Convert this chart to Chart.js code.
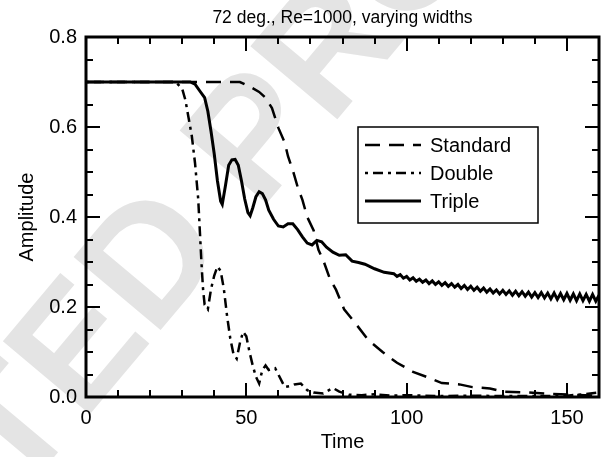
<!DOCTYPE html>
<html>
<head>
<meta charset="utf-8">
<script src="https://cdn.jsdelivr.net/npm/chart.js@4.4.1/dist/chart.umd.min.js"></script>
<style>
  html, body { margin: 0; padding: 0; background: #fff; }
</style>
</head>
<body>
<canvas id="chart" width="609" height="457"></canvas>
<script>
// values
const stdT = [0, 48, 51, 54, 56, 58, 60, 62, 63, 64.5, 66, 67.5, 69, 71, 72.5, 74, 76, 78, 80.5, 84, 88, 92.5, 97, 102, 106.5, 111, 116.5, 120.5, 126, 130, 138, 145, 152, 160];
const stdA = [0.70, 0.70, 0.69, 0.678, 0.665, 0.642, 0.598, 0.565, 0.535, 0.504, 0.467, 0.438, 0.40, 0.37, 0.327, 0.304, 0.264, 0.238, 0.195, 0.164, 0.127, 0.10, 0.076, 0.056, 0.044, 0.031, 0.028, 0.022, 0.019, 0.012, 0.01, 0.007, 0.005, 0.003];

const dblT = [0, 28, 30, 31, 32, 33, 34, 35, 35.5, 36, 36.5, 37, 38, 39, 40, 41, 42, 43, 44, 45, 46, 47, 48, 49, 50, 51, 52, 53, 54, 55, 56, 57, 58, 59, 60, 62, 64, 65, 67, 69, 71, 74, 77, 79, 82, 86, 90, 95, 100, 110, 120, 130, 140, 150, 155, 160];
const dblA = [0.70, 0.70, 0.685, 0.66, 0.62, 0.58, 0.52, 0.44, 0.37, 0.30, 0.24, 0.205, 0.195, 0.24, 0.27, 0.29, 0.28, 0.24, 0.18, 0.13, 0.095, 0.085, 0.12, 0.145, 0.135, 0.10, 0.07, 0.045, 0.03, 0.06, 0.07, 0.06, 0.062, 0.064, 0.05, 0.022, 0.025, 0.028, 0.03, 0.015, 0.01, 0.008, 0.02, 0.012, 0.005, 0.004, 0.006, 0.003, 0.004, 0.002, 0.003, 0.002, 0.002, 0.003, 0.006, 0.01];

const triT = [0, 32.5, 34, 35.5, 37, 38, 39, 40, 41, 42, 42.5, 43.5, 44.5, 45.5, 46.5, 47.5, 48.5, 49.5, 50.5, 51.2, 52, 53, 54, 55, 56, 57, 58.5, 60, 61.5, 63, 64.5, 66, 67.5, 69, 70.5, 72, 73.5, 75, 77, 79, 81, 83, 85, 87, 90, 93,
  96, 97, 98, 99, 100, 101, 102, 103, 104, 105, 106, 107, 108, 109, 110, 111, 112, 113, 114, 115, 116, 117, 118, 119, 120, 121, 122, 123, 124, 125, 126, 127, 128, 129,
  130, 131, 132, 133, 134, 135, 136, 137, 138, 139, 140, 141, 142, 143, 144, 145, 146, 147, 148, 149, 150, 151, 152, 153, 154, 155, 156, 157, 158, 159, 160];
const triA = [0.70, 0.70, 0.695, 0.68, 0.665, 0.635, 0.59, 0.54, 0.48, 0.435, 0.428, 0.47, 0.515, 0.527, 0.528, 0.515, 0.48, 0.44, 0.41, 0.403, 0.42, 0.445, 0.456, 0.452, 0.438, 0.415, 0.395, 0.38, 0.378, 0.385, 0.385, 0.372, 0.356, 0.342, 0.338, 0.348, 0.345, 0.333, 0.322, 0.315, 0.316, 0.302, 0.299, 0.295, 0.285, 0.277,
  0.274, 0.268, 0.272, 0.264, 0.268, 0.260, 0.265, 0.257, 0.262, 0.255, 0.260, 0.252, 0.258, 0.250, 0.256, 0.248, 0.254, 0.246, 0.252, 0.244, 0.250, 0.241, 0.248, 0.239, 0.246, 0.237, 0.244, 0.235, 0.242, 0.233, 0.240, 0.231, 0.238, 0.229,
  0.237, 0.228, 0.236, 0.226, 0.235, 0.225, 0.234, 0.224, 0.233, 0.222, 0.232, 0.221, 0.232, 0.220, 0.231, 0.218, 0.231, 0.217, 0.230, 0.216, 0.230, 0.215, 0.229, 0.214, 0.229, 0.214, 0.228, 0.213, 0.228, 0.213, 0.226];

const seriesNames = ['Standard', 'Double', 'Triple'];
const xTickLabels = [0, 50, 100, 150];
const yTickLabels = [0.0, 0.2, 0.4, 0.6, 0.8];

const FONT = '"Liberation Sans", Arial, Helvetica, sans-serif';
const dashes = [[15, 9], [3, 5, 10, 5], []];
const widths = [2.5, 2.5, 3];

function pairs(t, a) {
  return t.map((v, i) => ({ x: v, y: a[i] }));
}

// watermark behind everything
const watermark = {
  id: 'watermark',
  beforeDraw(chart) {
    const ctx = chart.ctx;
    ctx.save();
    ctx.fillStyle = '#fff';
    ctx.fillRect(0, 0, chart.width, chart.height);
    ctx.translate(18, 500);
    ctx.rotate(-50 * Math.PI / 180);
    ctx.font = 'bold 165px ' + FONT;
    ctx.fillStyle = '#e4e4e4';
    ctx.textBaseline = 'alphabetic';
    const pre = ctx.measureText('UNCORREC').width;
    ctx.fillText('UNCORRECTED PROOF', -pre, 0);
    ctx.restore();
  }
};

// frame with inward ticks on all four sides, plus the boxed legend
const frame = {
  id: 'frame',
  afterDatasetsDraw(chart) {
    const ctx = chart.ctx;
    const a = chart.chartArea;
    const xs = chart.scales.x, ys = chart.scales.y;
    ctx.save();
    ctx.strokeStyle = '#000';
    ctx.lineWidth = 2;
    ctx.beginPath();
    for (let v = 0; v <= 160; v += 10) {
      const px = Math.round(xs.getPixelForValue(v));
      const len = v % 50 === 0 ? 14 : 7;
      ctx.moveTo(px, a.bottom); ctx.lineTo(px, a.bottom - len);
      ctx.moveTo(px, a.top); ctx.lineTo(px, a.top + len);
    }
    for (let i = 0; i <= 16; i++) {
      const py = Math.round(ys.getPixelForValue(i * 0.05));
      const len = i % 4 === 0 ? 14 : 7;
      ctx.moveTo(a.left, py); ctx.lineTo(a.left + len, py);
      ctx.moveTo(a.right, py); ctx.lineTo(a.right - len, py);
    }
    ctx.stroke();
    ctx.lineWidth = 3;
    ctx.strokeRect(a.left, a.top, a.right - a.left, a.bottom - a.top);

    // legend
    ctx.fillStyle = '#fff';
    ctx.fillRect(358, 127, 180, 96);
    ctx.lineWidth = 1.5;
    ctx.strokeRect(358, 127, 180, 96);
    ctx.font = '20px ' + FONT;
    ctx.fillStyle = '#000';
    ctx.textBaseline = 'middle';
    const rows = [145, 173, 201];
    seriesNames.forEach((name, i) => {
      ctx.lineWidth = widths[i];
      ctx.setLineDash(dashes[i]);
      ctx.beginPath();
      ctx.moveTo(365, rows[i]); ctx.lineTo(421, rows[i]);
      ctx.stroke();
      ctx.setLineDash([]);
      ctx.fillText(name, 430, rows[i] + 1);
    });
    ctx.restore();
  }
};

new Chart(document.getElementById('chart'), {
  type: 'line',
  data: {
    datasets: [
      { label: seriesNames[0], data: pairs(stdT, stdA), borderDash: dashes[0], borderWidth: widths[0] },
      { label: seriesNames[1], data: pairs(dblT, dblA), borderDash: dashes[1], borderWidth: widths[1] },
      { label: seriesNames[2], data: pairs(triT, triA), borderDash: dashes[2], borderWidth: widths[2] }
    ].map(d => Object.assign(d, { borderColor: '#000', pointRadius: 0, tension: 0, fill: false, borderCapStyle: 'butt' }))
  },
  options: {
    responsive: false,
    animation: false,
    layout: { padding: { top: 0, right: 10, bottom: 0, left: 0 } },
    plugins: {
      legend: { display: false },
      tooltip: { enabled: false },
      title: {
        display: true,
        fullSize: false,
        text: '72 deg., Re=1000, varying widths',
        color: '#000',
        font: { family: FONT, size: 17.5, weight: 'normal' },
        padding: { top: 8, bottom: 8 }
      }
    },
    scales: {
      x: {
        type: 'linear', min: 0, max: 160,
        afterBuildTicks(s) { s.ticks = xTickLabels.map(v => ({ value: v })); },
        afterFit(s) { s.height = 60; },
        grid: { display: false, drawTicks: false },
        border: { display: false },
        ticks: { color: '#000', padding: 9, maxRotation: 0, font: { family: FONT, size: 20 } },
        title: { display: true, text: 'Time', color: '#000', padding: { top: 0, bottom: 3 }, font: { family: FONT, size: 20 } }
      },
      y: {
        min: 0, max: 0.8,
        afterBuildTicks(s) { s.ticks = yTickLabels.map(v => ({ value: v })); },
        afterFit(s) { s.width = 86; },
        grid: { display: false, drawTicks: false },
        border: { display: false },
        ticks: { color: '#000', padding: 9, font: { family: FONT, size: 20 }, callback: v => v.toFixed(1) },
        title: { display: true, text: 'Amplitude', color: '#000', padding: { top: 15, bottom: 0 }, font: { family: FONT, size: 20 } }
      }
    }
  },
  plugins: [watermark, frame]
});
</script>
</body>
</html>
